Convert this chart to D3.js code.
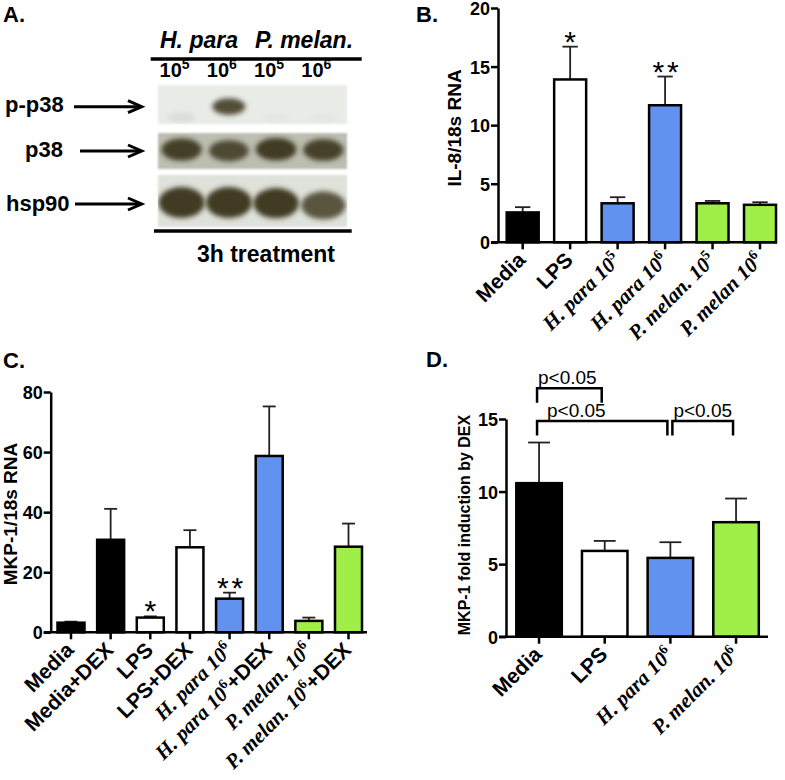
<!DOCTYPE html>
<html>
<head>
<meta charset="utf-8">
<script src="https://cdn.jsdelivr.net/npm/d3@7"></script>
<style>
  body { margin: 0; background: #fff; }
  text { font-family: "Liberation Sans", Arial, sans-serif; fill: #000; }
</style>
</head>
<body>
<div id="chart"></div>
<script>
// ---- data ----
// A. western blot (band strength 0..1 per lane)
const blotLanes = ["H. para 10^5", "H. para 10^6", "P. melan. 10^5", "P. melan. 10^6"];
const blotDoses = ["5", "6", "5", "6"];
const pp38Bands = [0.07, 0.85, 0.02, 0.02];
const p38Bands = [0.92, 0.84, 0.95, 0.9];
const hsp90Bands = [1, 1, 0.95, 0.8];

// B. IL-8/18s RNA
const il8Cats = ["Media", "LPS", "H. para 10^5", "H. para 10^6", "P. melan. 10^5", "P. melan 10^6"];
const il8Mean = [2.55, 13.9, 3.33, 11.7, 3.33, 3.2];
const il8Err = [0.45, 2.8, 0.52, 2.45, 0.2, 0.22];
const il8Stars = ["", "*", "", "**", "", ""];
const il8Ticks = [0, 5, 10, 15, 20];

// C. MKP-1/18s RNA
const mkpCats = ["Media", "Media+DEX", "LPS", "LPS+DEX", "H. para 10^6", "H. para 10^6+DEX", "P. melan. 10^6", "P. melan. 10^6+DEX"];
const mkpMean = [3.2, 30.8, 4.9, 28.3, 11.2, 58.7, 3.8, 28.5];
const mkpErr = [0.35, 10.3, 0.4, 5.7, 2.0, 16.5, 1.1, 7.7];
const mkpStars = ["", "", "*", "", "**", "", "", ""];
const mkpTicks = [0, 20, 40, 60, 80];

// D. MKP-1 fold induction by DEX
const foldCats = ["Media", "LPS", "H. para 10^6", "P. melan. 10^6"];
const foldMean = [10.58, 5.91, 5.43, 7.89];
const foldErr = [2.8, 0.69, 1.08, 1.63];
const foldTicks = [0, 5, 10, 15];
const foldPairs = [["Media", "LPS", "p<0.05", 1], ["Media", "H. para 10^6", "p<0.05", 0], ["H. para 10^6", "P. melan. 10^6", "p<0.05", 0]];

const SERIF = '"Liberation Serif", "Times New Roman", serif';

const svg = d3.select("#chart").append("svg")
  .attr("width", 785)
  .attr("height", 780);

function fillFor(cat) {
  if (cat.startsWith("Media")) return "#000";
  if (cat.startsWith("LPS")) return "#fff";
  if (cat.startsWith("H.")) return "#6192f0";
  return "#a0ef48";
}

// label like "H. para 10^6+DEX" -> italic serif part, superscript, bold rest
function catLabel(g, label, x, y) {
  const t = g.append("text")
    .attr("transform", `translate(${x},${y}) rotate(-45)`)
    .attr("text-anchor", "end")
    .style("font-size", "21px")
    .style("font-weight", "bold");
  const m = label.match(/^(.*?)\^(\d)(.*)$/);
  if (!m) { t.text(label); return; }
  t.append("tspan").style("font-family", SERIF).style("font-style", "italic").text(m[1]);
  t.append("tspan").style("font-family", SERIF).style("font-size", "14px").attr("dy", -8).text(m[2]);
  if (m[3]) t.append("tspan").attr("dy", 8).text(m[3]);
}

function panelLetter(txt, x, y) {
  svg.append("text").attr("x", x).attr("y", y)
    .style("font-size", "22px").style("font-weight", "bold").text(txt);
}

function barPanel(p) {
  const g = svg.append("g");
  const x = d3.scaleBand().domain(p.cats).range(p.band).paddingInner(p.pad).paddingOuter(0);
  const y = d3.scaleLinear().domain([0, d3.max(p.ticks)]).range([p.y0, p.yTop]);
  const bw = x.bandwidth();
  const cx = d => x(d) + bw / 2;

  // error bars (upper only)
  const eb = g.append("g").attr("stroke", "#222").attr("stroke-width", 1.8);
  p.cats.forEach((d, i) => {
    const top = y(p.mean[i] + p.err[i]);
    eb.append("line").attr("x1", cx(d)).attr("x2", cx(d)).attr("y1", y(p.mean[i])).attr("y2", top);
    eb.append("line").attr("x1", cx(d) - bw * 0.24).attr("x2", cx(d) + bw * 0.24).attr("y1", top).attr("y2", top);
  });

  g.selectAll("rect.bar").data(p.cats).join("rect")
    .attr("class", "bar")
    .attr("x", d => x(d))
    .attr("width", bw)
    .attr("y", (d, i) => y(p.mean[i]))
    .attr("height", (d, i) => y(0) - y(p.mean[i]))
    .attr("fill", fillFor)
    .attr("stroke", "#000")
    .attr("stroke-width", 2.5);

  // significance stars
  if (p.stars) {
    p.cats.forEach((d, i) => {
      if (!p.stars[i]) return;
      g.append("text")
        .attr("x", cx(d) + (p.stars[i].length > 1 ? 2 : 0))
        .attr("y", y(p.mean[i] + p.err[i]) + 5)
        .attr("text-anchor", "middle")
        .style("font-size", "30px")
        .style("letter-spacing", p.stars[i].length > 1 ? "3px" : null)
        .text(p.stars[i]);
    });
  }

  // y axis
  const ya = g.append("g")
    .attr("transform", `translate(${p.axisX},0)`)
    .call(d3.axisLeft(y).tickValues(p.ticks).tickSize(7).tickPadding(1).tickSizeOuter(0));
  ya.attr("font-family", null).attr("font-size", null);
  ya.select(".domain").attr("stroke-width", 2.5);
  ya.selectAll(".tick line").attr("stroke-width", 2.5);
  ya.selectAll(".tick text").style("font-size", "18px").style("font-weight", "bold").attr("dy", "0.36em");

  // x axis
  const xa = g.append("g")
    .attr("transform", `translate(0,${p.y0})`)
    .call(d3.axisBottom(x).tickSize(7).tickSizeOuter(0).tickFormat(""));
  xa.select(".domain").remove();
  xa.selectAll(".tick line").attr("stroke-width", 2.5);
  xa.append("line").attr("x1", p.axisX - 7).attr("x2", p.xEnd).attr("stroke", "#000").attr("stroke-width", 2.5);

  p.cats.forEach(d => catLabel(g, d, cx(d) + 4, p.y0 + 19));

  // y title
  g.append("text")
    .attr("transform", `translate(${p.titleX},${p.titleY}) rotate(-90)`)
    .attr("text-anchor", "middle")
    .style("font-size", p.titleSize)
    .style("font-weight", "bold")
    .text(p.title);

  return { g, x, y, cx };
}

// ---------- A. blot ----------
panelLetter("A.", 3, 22);
const defs = svg.append("defs");
defs.append("filter").attr("id", "soft").attr("x", "-50%").attr("y", "-50%").attr("width", "200%").attr("height", "200%")
  .append("feGaussianBlur").attr("stdDeviation", 2.6);
defs.append("filter").attr("id", "edge")
  .append("feGaussianBlur").attr("stdDeviation", 0.8);

const lane = d3.scaleBand().domain(blotLanes).range([158, 347]);
const blotRows = [
  { name: "p-p38", bands: pp38Bands, top: 85, h: 39, bg: "#e8ebe6", cy: 104.5, rx: 17, ry: 9, lx: 5, ly: 112, ay: 106.7, ax: 74 },
  { name: "p38", bands: p38Bands, top: 133, h: 36, bg: "#bdbeb2", cy: 148.5, rx: 20.5, ry: 11.5, lx: 25, ly: 157, ay: 151, ax: 80 },
  { name: "hsp90", bands: hsp90Bands, top: 175, h: 52, bg: "#dfe1db", cy: 202.5, rx: 23, ry: 15.5, lx: 6, ly: 211, ay: 204, ax: 75 }
];

blotRows.forEach((r, k) => {
  const clip = defs.append("clipPath").attr("id", "clip" + k);
  clip.append("rect").attr("x", 158).attr("y", r.top).attr("width", 189).attr("height", r.h);
  svg.append("rect").attr("x", 158).attr("y", r.top).attr("width", 189).attr("height", r.h)
    .attr("fill", r.bg).attr("filter", "url(#edge)");
  const bg = svg.append("g").attr("clip-path", `url(#clip${k})`);
  bg.selectAll("ellipse").data(blotLanes).join("ellipse")
    .attr("cx", d => lane(d) + lane.bandwidth() / 2)
    .attr("cy", (d, i) => r.cy + (1 - r.bands[i]) * 14)
    .attr("rx", (d, i) => r.rx * (0.8 + 0.2 * r.bands[i]))
    .attr("ry", (d, i) => r.ry * (0.5 + 0.5 * r.bands[i]))
    .attr("fill", "#3f3b22")
    .attr("opacity", (d, i) => Math.min(1, r.bands[i] * 1.05))
    .attr("filter", "url(#soft)");

  svg.append("text").attr("x", r.lx).attr("y", r.ly)
    .style("font-size", "22px").style("font-weight", "bold").text(r.name);
  svg.append("line").attr("x1", r.ax).attr("x2", 140).attr("y1", r.ay).attr("y2", r.ay)
    .attr("stroke", "#000").attr("stroke-width", 3);
  svg.append("path").attr("d", `M128,${r.ay - 6}L141.7,${r.ay}L128,${r.ay + 6}`)
    .attr("fill", "none").attr("stroke", "#000").attr("stroke-width", 3);
});

svg.append("text").attr("x", 160).attr("y", 48)
  .style("font-size", "23px").style("font-weight", "bold").style("font-style", "italic").text("H. para");
svg.append("text").attr("x", 255).attr("y", 48)
  .style("font-size", "23px").style("font-weight", "bold").style("font-style", "italic").text("P. melan.");
svg.append("line").attr("x1", 150.7).attr("x2", 361.7).attr("y1", 59).attr("y2", 59)
  .attr("stroke", "#000").attr("stroke-width", 3.3);
blotLanes.forEach((d, i) => {
  const t = svg.append("text")
    .attr("x", lane(d) + lane.bandwidth() / 2 - 7)
    .attr("y", 77)
    .attr("text-anchor", "middle")
    .style("font-size", "20px").style("font-weight", "bold");
  t.append("tspan").text("10");
  t.append("tspan").attr("dy", -8).style("font-size", "14px").text(blotDoses[i]);
});
svg.append("line").attr("x1", 154).attr("x2", 351.7).attr("y1", 231).attr("y2", 231)
  .attr("stroke", "#000").attr("stroke-width", 3.3);
svg.append("text").attr("x", 266).attr("y", 261.5).attr("text-anchor", "middle")
  .style("font-size", "23px").style("font-weight", "bold").text("3h treatment");

// ---------- B ----------
panelLetter("B.", 416, 22);
barPanel({
  cats: il8Cats, mean: il8Mean, err: il8Err, stars: il8Stars, ticks: il8Ticks,
  band: [506.7, 776], pad: 0.326, y0: 242.3, yTop: 8, axisX: 498, xEnd: 777,
  title: "IL-8/18s RNA", titleX: 460.5, titleY: 128, titleSize: "19px"
});

// ---------- C ----------
panelLetter("C.", 3, 368);
barPanel({
  cats: mkpCats, mean: mkpMean, err: mkpErr, stars: mkpStars, ticks: mkpTicks,
  band: [57.5, 362], pad: 0.319, y0: 632.3, yTop: 392, axisX: 50.7, xEnd: 367,
  title: "MKP-1/18s RNA", titleX: 16.5, titleY: 514, titleSize: "19px"
});

// ---------- D ----------
panelLetter("D.", 426, 367);
const d = barPanel({
  cats: foldCats, mean: foldMean, err: foldErr, ticks: foldTicks,
  band: [516.3, 758.8], pad: 0.307, y0: 636.7, yTop: 419, axisX: 506, xEnd: 768,
  title: "MKP-1 fold induction by DEX", titleX: 470, titleY: 525, titleSize: "16px"
});

// comparison brackets
foldPairs.forEach(([a, b, txt, tier], i) => {
  const shared = i === 2 ? 2 : -2;
  const x1 = d.cx(a) + shared;
  const x2 = d.cx(b) - 3;
  const yl = d.y(15) + 2 - tier * 32.7;
  d.g.append("path")
    .attr("d", `M${x1},${yl + 14.5}V${yl}H${x2}V${yl + 14.5}`)
    .attr("fill", "none").attr("stroke", "#000").attr("stroke-width", 2.5);
  d.g.append("text")
    .attr("x", x1 + (tier === 0 && i === 1 ? 10 : 1))
    .attr("y", yl - 4.5)
    .style("font-size", "19px")
    .text(txt);
});
</script>
</body>
</html>
